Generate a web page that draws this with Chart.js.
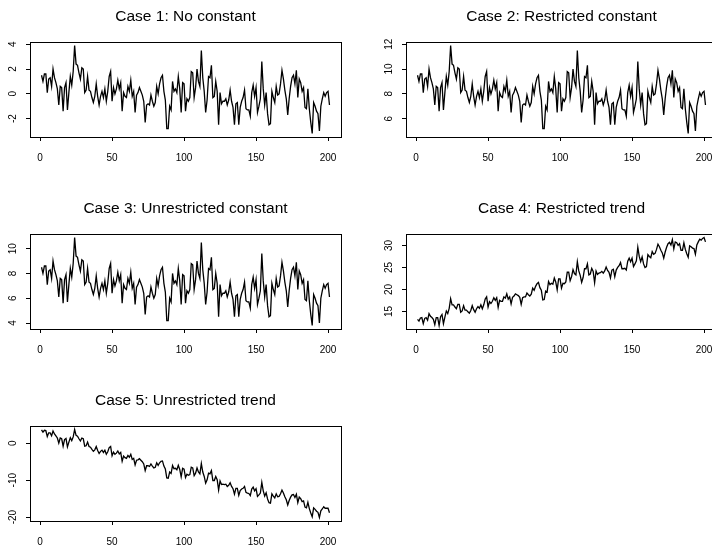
<!DOCTYPE html>
<html>
<head>
<meta charset="utf-8">
<title>Cointegration cases</title>
<script src="https://cdn.jsdelivr.net/npm/chart.js@4.4.1/dist/chart.umd.min.js"></script>
<style>
  html, body { margin: 0; padding: 0; background: #fff; }
  body { width: 712px; height: 549px; overflow: hidden; position: relative; }
  canvas { position: absolute; }
</style>
</head>
<body>
<canvas id="p1" width="376" height="192" style="left:0px;top:0px"></canvas>
<canvas id="p2" width="376" height="192" style="left:376px;top:0px"></canvas>
<canvas id="p3" width="376" height="192" style="left:0px;top:192px"></canvas>
<canvas id="p4" width="376" height="192" style="left:376px;top:192px"></canvas>
<canvas id="p5" width="376" height="192" style="left:0px;top:384px"></canvas>
<script>
const xTicks = [0, 50, 100, 150, 200];

const case1 = [
  1.5, 1.0, 1.6, 1.6, 0.1, 1.2, 1.3, 0.6, 2.0, 1.3,
  0.9, 0.4, -0.9, 0.6, 0.5, -1.4, 0.5, 0.9, -1.3, 0.1,
  1.4, 0.7, 1.8, 3.9, 2.4, 2.3, 1.7, 1.2, 2.1, 2.0,
  0.1, 0.3, 1.4, 0.3, 0.2, -0.3, -0.7, -0.2, 0.8, -0.2,
  -0.9, -0.2, 0.2, -0.3, 0.4, -0.6, 0.2, 1.4, 1.8, -0.6,
  0.5, 0.0, 0.4, 1.1, 0.4, 0.9, -1.4, 0.1, -0.2, -0.3,
  0.6, 0.2, 1.1, -0.2, 0.2, -1.5, -0.1, 0.1, 0.5, 0.2,
  -0.1, -0.6, -2.3, -0.9, -0.8, -0.9, -0.1, -0.6, -1.0, -0.7,
  0.6, 0.0, 0.8, 1.3, 1.5, 0.2, -0.5, -2.8, -2.8, -1.0,
  -1.3, 1.0, 0.2, 0.4, 0.1, 1.4, 0.4, -1.5, 0.9, 0.8,
  -1.4, -0.4, -0.6, -0.3, 1.8, 1.7, -0.3, 0.5, 2.0, 1.0,
  0.6, 3.5, 1.3, 0.2, -1.5, -0.5, 1.4, 1.3, 2.3, -0.3,
  -0.2, 1.0, 0.2, -2.5, 0.1, -0.8, -0.6, -0.6, -0.4, -0.9,
  -0.5, 0.3, -0.6, -1.1, -2.5, -0.8, -0.7, -2.5, -1.1, -0.6,
  -0.3, 0.3, -1.2, -1.3, -1.3, -1.8, 0.1, 0.7, -0.2, 0.5,
  -1.5, -1.0, -0.4, 2.6, 0.4, -0.9, 0.1, -1.6, -2.5, -2.4,
  0.2, -0.3, -0.7, 0.6, -0.1, 0.0, 0.8, 1.9, 1.2, 0.3,
  -0.4, -1.7, -0.4, 0.6, 1.3, 1.5, 0.8, 1.9, -0.3, 1.2,
  0.9, 0.2, 0.5, -1.1, -1.2, 0.4, -1.2, -2.3, -3.2, -0.7,
  -1.0, -1.4, -1.6, -3.0, -1.0, -0.4, 0.1, -0.2, 0.1, 0.2,
  -0.9
];

const case2 = [
  9.5, 9.0, 9.6, 9.6, 8.1, 9.2, 9.3, 8.6, 10.0, 9.3,
  8.9, 8.4, 7.1, 8.6, 8.5, 6.6, 8.5, 8.9, 6.7, 8.1,
  9.4, 8.7, 9.8, 11.9, 10.4, 10.3, 9.7, 9.2, 10.1, 10.0,
  8.1, 8.3, 9.4, 8.3, 8.2, 7.7, 7.3, 7.8, 8.8, 7.8,
  7.1, 7.8, 8.2, 7.7, 8.4, 7.4, 8.2, 9.4, 9.8, 7.4,
  8.5, 8.0, 8.4, 9.1, 8.4, 8.9, 6.6, 8.1, 7.8, 7.7,
  8.6, 8.2, 9.1, 7.8, 8.2, 6.5, 7.9, 8.1, 8.5, 8.2,
  7.9, 7.4, 5.7, 7.1, 7.2, 7.1, 7.9, 7.4, 7.0, 7.3,
  8.6, 8.0, 8.8, 9.3, 9.5, 8.2, 7.5, 5.2, 5.2, 7.0,
  6.7, 9.0, 8.2, 8.4, 8.1, 9.4, 8.4, 6.5, 8.9, 8.8,
  6.6, 7.6, 7.4, 7.7, 9.8, 9.7, 7.7, 8.5, 10.0, 9.0,
  8.6, 11.5, 9.3, 8.2, 6.5, 7.5, 9.4, 9.3, 10.3, 7.7,
  7.8, 9.0, 8.2, 5.5, 8.1, 7.2, 7.4, 7.4, 7.6, 7.1,
  7.5, 8.3, 7.4, 6.9, 5.5, 7.2, 7.3, 5.5, 6.9, 7.4,
  7.7, 8.3, 6.8, 6.7, 6.7, 6.2, 8.1, 8.7, 7.8, 8.5,
  6.5, 7.0, 7.6, 10.6, 8.4, 7.1, 8.1, 6.4, 5.5, 5.6,
  8.2, 7.7, 7.3, 8.6, 7.9, 8.0, 8.8, 9.9, 9.2, 8.3,
  7.6, 6.3, 7.6, 8.6, 9.3, 9.5, 8.8, 9.9, 7.7, 9.2,
  8.9, 8.2, 8.5, 6.9, 6.8, 8.4, 6.8, 5.7, 4.8, 7.3,
  7.0, 6.6, 6.4, 5.0, 7.0, 7.6, 8.1, 7.8, 8.1, 8.2,
  7.1
];

const case3 = [
  8.5, 8.0, 8.6, 8.6, 7.1, 8.2, 8.3, 7.6, 9.0, 8.3,
  7.9, 7.4, 6.1, 7.6, 7.5, 5.6, 7.5, 7.9, 5.7, 7.1,
  8.4, 7.7, 8.8, 10.9, 9.4, 9.3, 8.7, 8.2, 9.1, 9.0,
  7.1, 7.3, 8.4, 7.3, 7.2, 6.7, 6.3, 6.8, 7.8, 6.8,
  6.1, 6.8, 7.2, 6.7, 7.4, 6.4, 7.2, 8.4, 8.8, 6.4,
  7.5, 7.0, 7.4, 8.1, 7.4, 7.9, 5.6, 7.1, 6.8, 6.7,
  7.6, 7.2, 8.1, 6.8, 7.2, 5.5, 6.9, 7.1, 7.5, 7.2,
  6.9, 6.4, 4.7, 6.1, 6.2, 6.1, 6.9, 6.4, 6.0, 6.3,
  7.6, 7.0, 7.8, 8.3, 8.5, 7.2, 6.5, 4.2, 4.2, 6.0,
  5.7, 8.0, 7.2, 7.4, 7.1, 8.4, 7.4, 5.5, 7.9, 7.8,
  5.6, 6.6, 6.4, 6.7, 8.8, 8.7, 6.7, 7.5, 9.0, 8.0,
  7.6, 10.5, 8.3, 7.2, 5.5, 6.5, 8.4, 8.3, 9.3, 6.7,
  6.8, 8.0, 7.2, 4.5, 7.1, 6.2, 6.4, 6.4, 6.6, 6.1,
  6.5, 7.3, 6.4, 5.9, 4.5, 6.2, 6.3, 4.5, 5.9, 6.4,
  6.7, 7.3, 5.8, 5.7, 5.7, 5.2, 7.1, 7.7, 6.8, 7.5,
  5.5, 6.0, 6.6, 9.6, 7.4, 6.1, 7.1, 5.4, 4.5, 4.6,
  7.2, 6.7, 6.3, 7.6, 6.9, 7.0, 7.8, 8.9, 8.2, 7.3,
  6.6, 5.3, 6.6, 7.6, 8.3, 8.5, 7.8, 8.9, 6.7, 8.2,
  7.9, 7.2, 7.5, 5.9, 5.8, 7.4, 5.8, 4.7, 3.8, 6.3,
  6.0, 5.6, 5.4, 4.0, 6.0, 6.6, 7.1, 6.8, 7.1, 7.2,
  6.1
];

const case4 = [
  13.2, 12.8, 13.5, 13.6, 12.2, 13.4, 13.6, 13.0, 14.5, 13.9,
  13.6, 13.2, 12.0, 13.6, 13.6, 11.8, 13.8, 14.3, 12.2, 13.7,
  15.1, 14.5, 15.7, 17.9, 16.5, 16.5, 16.0, 15.6, 16.6, 16.6,
  14.8, 15.1, 16.3, 15.3, 15.3, 14.9, 14.6, 15.2, 16.3, 15.4,
  14.8, 15.6, 16.1, 15.7, 16.5, 15.6, 16.5, 17.8, 18.3, 16.0,
  17.2, 16.8, 17.3, 18.1, 17.5, 18.1, 15.9, 17.5, 17.3, 17.3,
  18.3, 18.0, 19.0, 17.8, 18.3, 16.7, 18.2, 18.5, 19.0, 18.8,
  18.6, 18.2, 16.6, 18.1, 18.3, 18.3, 19.2, 18.8, 18.5, 18.9,
  20.3, 19.8, 20.7, 21.3, 21.6, 20.4, 19.8, 17.6, 17.7, 19.6,
  19.4, 21.8, 21.1, 21.4, 21.2, 22.6, 21.7, 19.9, 22.4, 22.4,
  20.3, 21.4, 21.3, 21.7, 23.9, 23.9, 22.0, 22.9, 24.5, 23.6,
  23.3, 26.3, 24.2, 23.2, 21.6, 22.7, 24.7, 24.7, 25.8, 23.3,
  23.5, 24.8, 24.1, 21.5, 24.2, 23.4, 23.7, 23.8, 24.1, 23.7,
  24.2, 25.1, 24.3, 23.9, 22.6, 24.4, 24.6, 22.9, 24.4, 25.0,
  25.4, 26.1, 24.7, 24.7, 24.8, 24.4, 26.4, 27.1, 26.3, 27.1,
  25.2, 25.8, 26.5, 29.6, 27.5, 26.3, 27.4, 25.8, 25.0, 25.2,
  27.9, 27.5, 27.2, 28.6, 28.0, 28.2, 29.1, 30.3, 29.7, 28.9,
  28.3, 27.1, 28.5, 29.6, 30.4, 30.7, 30.1, 31.3, 29.2, 30.8,
  30.6, 30.0, 30.4, 28.9, 28.9, 30.6, 29.1, 28.1, 27.3, 29.9,
  29.7, 29.4, 29.3, 28.0, 30.1, 30.8, 31.4, 31.2, 31.6, 31.8,
  30.8
];

const case5 = [
  3.6, 3.0, 3.5, 3.4, 1.8, 2.8, 2.8, 2.0, 3.3, 2.5,
  2.0, 1.4, 0.0, 1.4, 1.2, -0.8, 1.0, 1.3, -1.0, 0.3,
  1.5, 0.7, 1.7, 3.7, 2.1, 1.9, 1.2, 0.6, 1.4, 1.2,
  -0.8, -0.7, 0.3, -0.9, -1.1, -1.7, -2.2, -1.8, -0.9, -2.0,
  -2.8, -2.2, -1.9, -2.5, -1.9, -3.0, -2.3, -1.2, -0.9, -3.4,
  -2.4, -3.0, -2.7, -2.1, -2.9, -2.5, -4.9, -3.5, -3.9, -4.1,
  -3.3, -3.8, -3.0, -4.4, -4.1, -5.9, -4.6, -4.5, -4.2, -4.6,
  -5.0, -5.6, -7.4, -6.1, -6.1, -6.3, -5.6, -6.2, -6.7, -6.5,
  -5.3, -6.0, -5.3, -4.9, -4.8, -6.2, -7.0, -9.4, -9.5, -7.8,
  -8.2, -6.0, -6.9, -6.8, -7.2, -6.0, -7.1, -9.1, -6.8, -7.0,
  -9.3, -8.4, -8.7, -8.5, -6.5, -6.7, -8.8, -8.1, -6.7, -7.8,
  -8.3, -5.5, -7.8, -9.0, -10.8, -9.9, -8.1, -8.3, -7.4, -10.1,
  -10.1, -9.0, -9.9, -12.7, -10.2, -11.2, -11.1, -11.2, -11.1, -11.7,
  -11.4, -10.7, -11.7, -12.3, -13.8, -12.2, -12.2, -14.1, -12.8, -12.4,
  -12.2, -11.7, -13.3, -13.5, -13.6, -14.2, -12.4, -11.9, -12.9, -12.3,
  -14.4, -14.0, -13.5, -10.6, -12.9, -14.3, -13.4, -15.1, -16.1, -16.2,
  -13.7, -14.3, -14.8, -13.7, -14.5, -14.4, -13.7, -12.7, -13.5, -14.5,
  -15.3, -16.7, -15.5, -14.6, -14.0, -13.9, -14.7, -13.8, -16.1, -14.6,
  -15.0, -15.8, -15.6, -17.3, -17.5, -16.0, -17.7, -18.9, -19.9, -17.5,
  -17.9, -18.4, -18.7, -20.1, -18.3, -17.8, -17.2, -17.6, -17.6, -17.6,
  -18.8
];

const yTicks1 = [-2, 0, 2, 4];
const yTicks2 = [6, 8, 10, 12];
const yTicks3 = [4, 6, 8, 10];
const yTicks4 = [15, 20, 25, 30];
const yTicks5 = [-20, -10, 0];

const time = case1.map((v, i) => i + 1);
const fontFamily = '"Liberation Sans", Arial, Helvetica, sans-serif';

// frame around the plot region and upright-rotated y labels (R style)
const framePlugin = {
  id: 'frame',
  afterDraw(chart) {
    const ctx = chart.ctx;
    const a = chart.chartArea;
    const y = chart.scales.y;
    ctx.save();
    ctx.strokeStyle = '#000';
    ctx.lineWidth = 1;
    ctx.strokeRect(Math.round(a.left) + 0.5, Math.round(a.top) + 0.5,
      Math.round(a.right - a.left), Math.round(a.bottom - a.top));
    ctx.fillStyle = '#000';
    ctx.font = '10px ' + fontFamily;
    ctx.textAlign = 'center';
    ctx.textBaseline = 'middle';
    y.ticks.forEach(t => {
      ctx.save();
      ctx.translate(a.left - 16.5, y.getPixelForValue(t.value));
      ctx.rotate(-Math.PI / 2);
      ctx.fillText(String(t.value), 0, 0);
      ctx.restore();
    });
    ctx.restore();
  }
};

function drawPanel(id, title, values, yTicks) {
  const lo = Math.min(...values);
  const hi = Math.max(...values);
  const pad = (hi - lo) * 0.04;
  const tickGrid = { display: true, drawOnChartArea: false, drawTicks: true, tickLength: 4, color: '#000', lineWidth: 1 };

  new Chart(document.getElementById(id), {
    type: 'line',
    data: {
      labels: time,
      datasets: [{
        data: values,
        borderColor: '#000',
        borderWidth: 1.3,
        pointRadius: 0,
        tension: 0,
        fill: false
      }]
    },
    options: {
      responsive: false,
      animation: false,
      events: [],
      layout: { padding: { left: 0, right: 35, top: 0, bottom: 15 } },
      plugins: {
        legend: { display: false },
        tooltip: { enabled: false },
        title: {
          display: true,
          fullSize: false,
          text: title,
          color: '#000',
          font: { family: fontFamily, size: 15.5, weight: 'normal' },
          padding: { top: 7.4, bottom: 16 }
        }
      },
      scales: {
        x: {
          type: 'linear',
          min: -7,
          max: 209,
          afterBuildTicks: s => { s.ticks = xTicks.map(v => ({ value: v })); },
          afterFit: s => { s.height = 40; },
          grid: tickGrid,
          border: { display: false },
          ticks: { color: '#000', font: { family: fontFamily, size: 10 }, padding: 11, maxRotation: 0, autoSkip: false }
        },
        y: {
          min: lo - pad,
          max: hi + pad,
          afterBuildTicks: s => { s.ticks = yTicks.map(v => ({ value: v })); },
          afterFit: s => { s.width = 30; },
          grid: tickGrid,
          border: { display: false },
          ticks: { display: false }
        }
      }
    },
    plugins: [framePlugin]
  });
}

drawPanel('p1', 'Case 1: No constant', case1, yTicks1);
drawPanel('p2', 'Case 2: Restricted constant', case2, yTicks2);
drawPanel('p3', 'Case 3: Unrestricted constant', case3, yTicks3);
drawPanel('p4', 'Case 4: Restricted trend', case4, yTicks4);
drawPanel('p5', 'Case 5: Unrestricted trend', case5, yTicks5);
</script>
</body>
</html>
